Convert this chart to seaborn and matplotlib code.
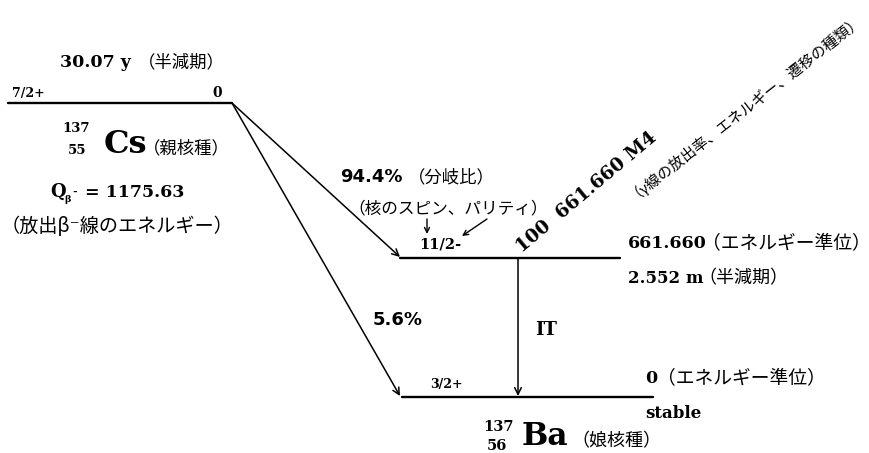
import pandas as pd
import numpy as np
import seaborn as sns
import matplotlib.pyplot as plt

# ---- decay data (137Cs -> 137Ba) ----
nuclides = ["Cs", "Ba"]
mass_number = [137, 137]
atomic_number = [55, 56]
roles = ["（親核種）", "（娘核種）"]
spins = ["7/2+", "11/2-", "3/2+"]
level_energy = ["0", "661.660", "0"]
half_lives = ["30.07 y", "2.552 m", "stable"]
branch_pct = [94.4, 5.6]
gamma_intensity = 100
gamma_energy = "661.660"
gamma_mult = "M4"
q_beta = 1175.63

# ---- layout (pixel frame, y down) ----
lvl_x0 = [8, 400, 402]
lvl_x1 = [232, 620, 653]
lvl_y = [103, 258, 397]

sns.set_theme(style="white")
plt.rcParams['font.family'] = ['DejaVu Serif', 'Noto Sans CJK JP']
JP = ['Noto Sans CJK JP', 'DejaVu Sans']
SER = ['DejaVu Serif', 'Noto Sans CJK JP']

fig = plt.figure(figsize=(8.7, 4.53), dpi=100)
ax = fig.add_axes([0, 0, 1, 1])

levels = pd.DataFrame({
    "level": [0, 0, 1, 1, 2, 2],
    "x": [lvl_x0[0], lvl_x1[0], lvl_x0[1], lvl_x1[1], lvl_x0[2], lvl_x1[2]],
    "y": [lvl_y[0], lvl_y[0], lvl_y[1], lvl_y[1], lvl_y[2], lvl_y[2]],
})
sns.lineplot(data=levels, x="x", y="y", units="level", estimator=None,
             sort=False, color="black", lw=1.7, ax=ax, legend=False)
ax.set_xlim(0, 870)
ax.set_ylim(453, 0)
ax.axis("off")

ap = dict(arrowstyle="->", color="black", lw=1.1, shrinkA=0, shrinkB=0,
          mutation_scale=12)
# beta branches
ax.annotate("", xy=(lvl_x0[1], lvl_y[1] - 1), xytext=(lvl_x1[0], lvl_y[0]), arrowprops=ap)
ax.annotate("", xy=(lvl_x0[2] - 2, lvl_y[2] - 1), xytext=(lvl_x1[0], lvl_y[0]), arrowprops=ap)
# IT transition
ax.annotate("", xy=(518, lvl_y[2] - 1), xytext=(518, lvl_y[1]), arrowprops=ap)
# pointer arrows to spin label
ap2 = dict(arrowstyle="->", color="black", lw=1.0, shrinkA=0, shrinkB=0, mutation_scale=9)
ax.annotate("", xy=(427, 234), xytext=(427, 219), arrowprops=ap2)
ax.annotate("", xy=(462, 236), xytext=(487, 219), arrowprops=ap2)


def t(x, y, s, size, fam=SER, bold=True, **kw):
    ax.text(x, y, s, fontsize=size, family=fam, color="black",
            fontweight="bold" if bold else "normal", va="baseline", ha="left", **kw)


def jt(x, y, s, size, **kw):
    # x is where the visible bracket starts; full-width bracket has half-em blank
    if s.startswith("（"):
        x -= 0.5 * size * 100 / 72
    t(x, y, s, size, JP, False, **kw)


# parent
t(60, 67, half_lives[0], 12.5)
jt(147, 67, "（半減期）", 12.5)
t(12, 97, spins[0], 9)
t(212, 97, level_energy[0], 10)
t(62, 132, str(mass_number[0]), 9.5)
t(68, 154, str(atomic_number[0]), 9.5)
t(104, 153, nuclides[0], 23)
jt(152, 153, roles[0], 12.5)
t(50, 197, "Q", 13)
t(64, 202, "β", 7, ['DejaVu Serif'])
t(72, 196, "-", 8)
t(85, 197, "= %.2f" % q_beta, 12.5)
t(1, 232, "（放出β⁻線のエネルギー）", 13.8, JP, False)

# branches
t(340, 182, "%.1f%%" % branch_pct[0], 13, ['DejaVu Sans'])
jt(417, 182, "（分岐比）", 12.5)
t(373, 325, "%.1f%%" % branch_pct[1], 13, ['DejaVu Sans'])

# isomer level
jt(357, 213, "（核のスピン、パリティ）", 12)
t(419, 248, spins[1], 10.5)
t(522, 253, "%d  %s %s" % (gamma_intensity, gamma_energy, gamma_mult), 13.5,
  rotation=40, rotation_mode="anchor")
jt(638, 198, "（γ線の放出率、エネルギー、遷移の種類）", 10.8,
   rotation=38, rotation_mode="anchor")
t(628, 248, level_energy[1], 12.5)
jt(711, 248, "（エネルギー準位）", 13.5)
t(628, 283, half_lives[1], 12)
jt(707, 283, "（半減期）", 13)
t(535, 335, "IT", 13)

# ground state
t(430, 388, spins[2], 9)
t(645, 383, level_energy[2], 12.5)
t(657, 383, "（エネルギー準位）", 13.5, JP, False)
t(645, 418, half_lives[2], 12)
t(483, 431, str(mass_number[1]), 10.5)
t(487, 450, str(atomic_number[1]), 10.5)
t(522, 445, nuclides[1], 22.5)
jt(580, 446, roles[1], 13)

fig.savefig("out.png", dpi=100, facecolor="white")
